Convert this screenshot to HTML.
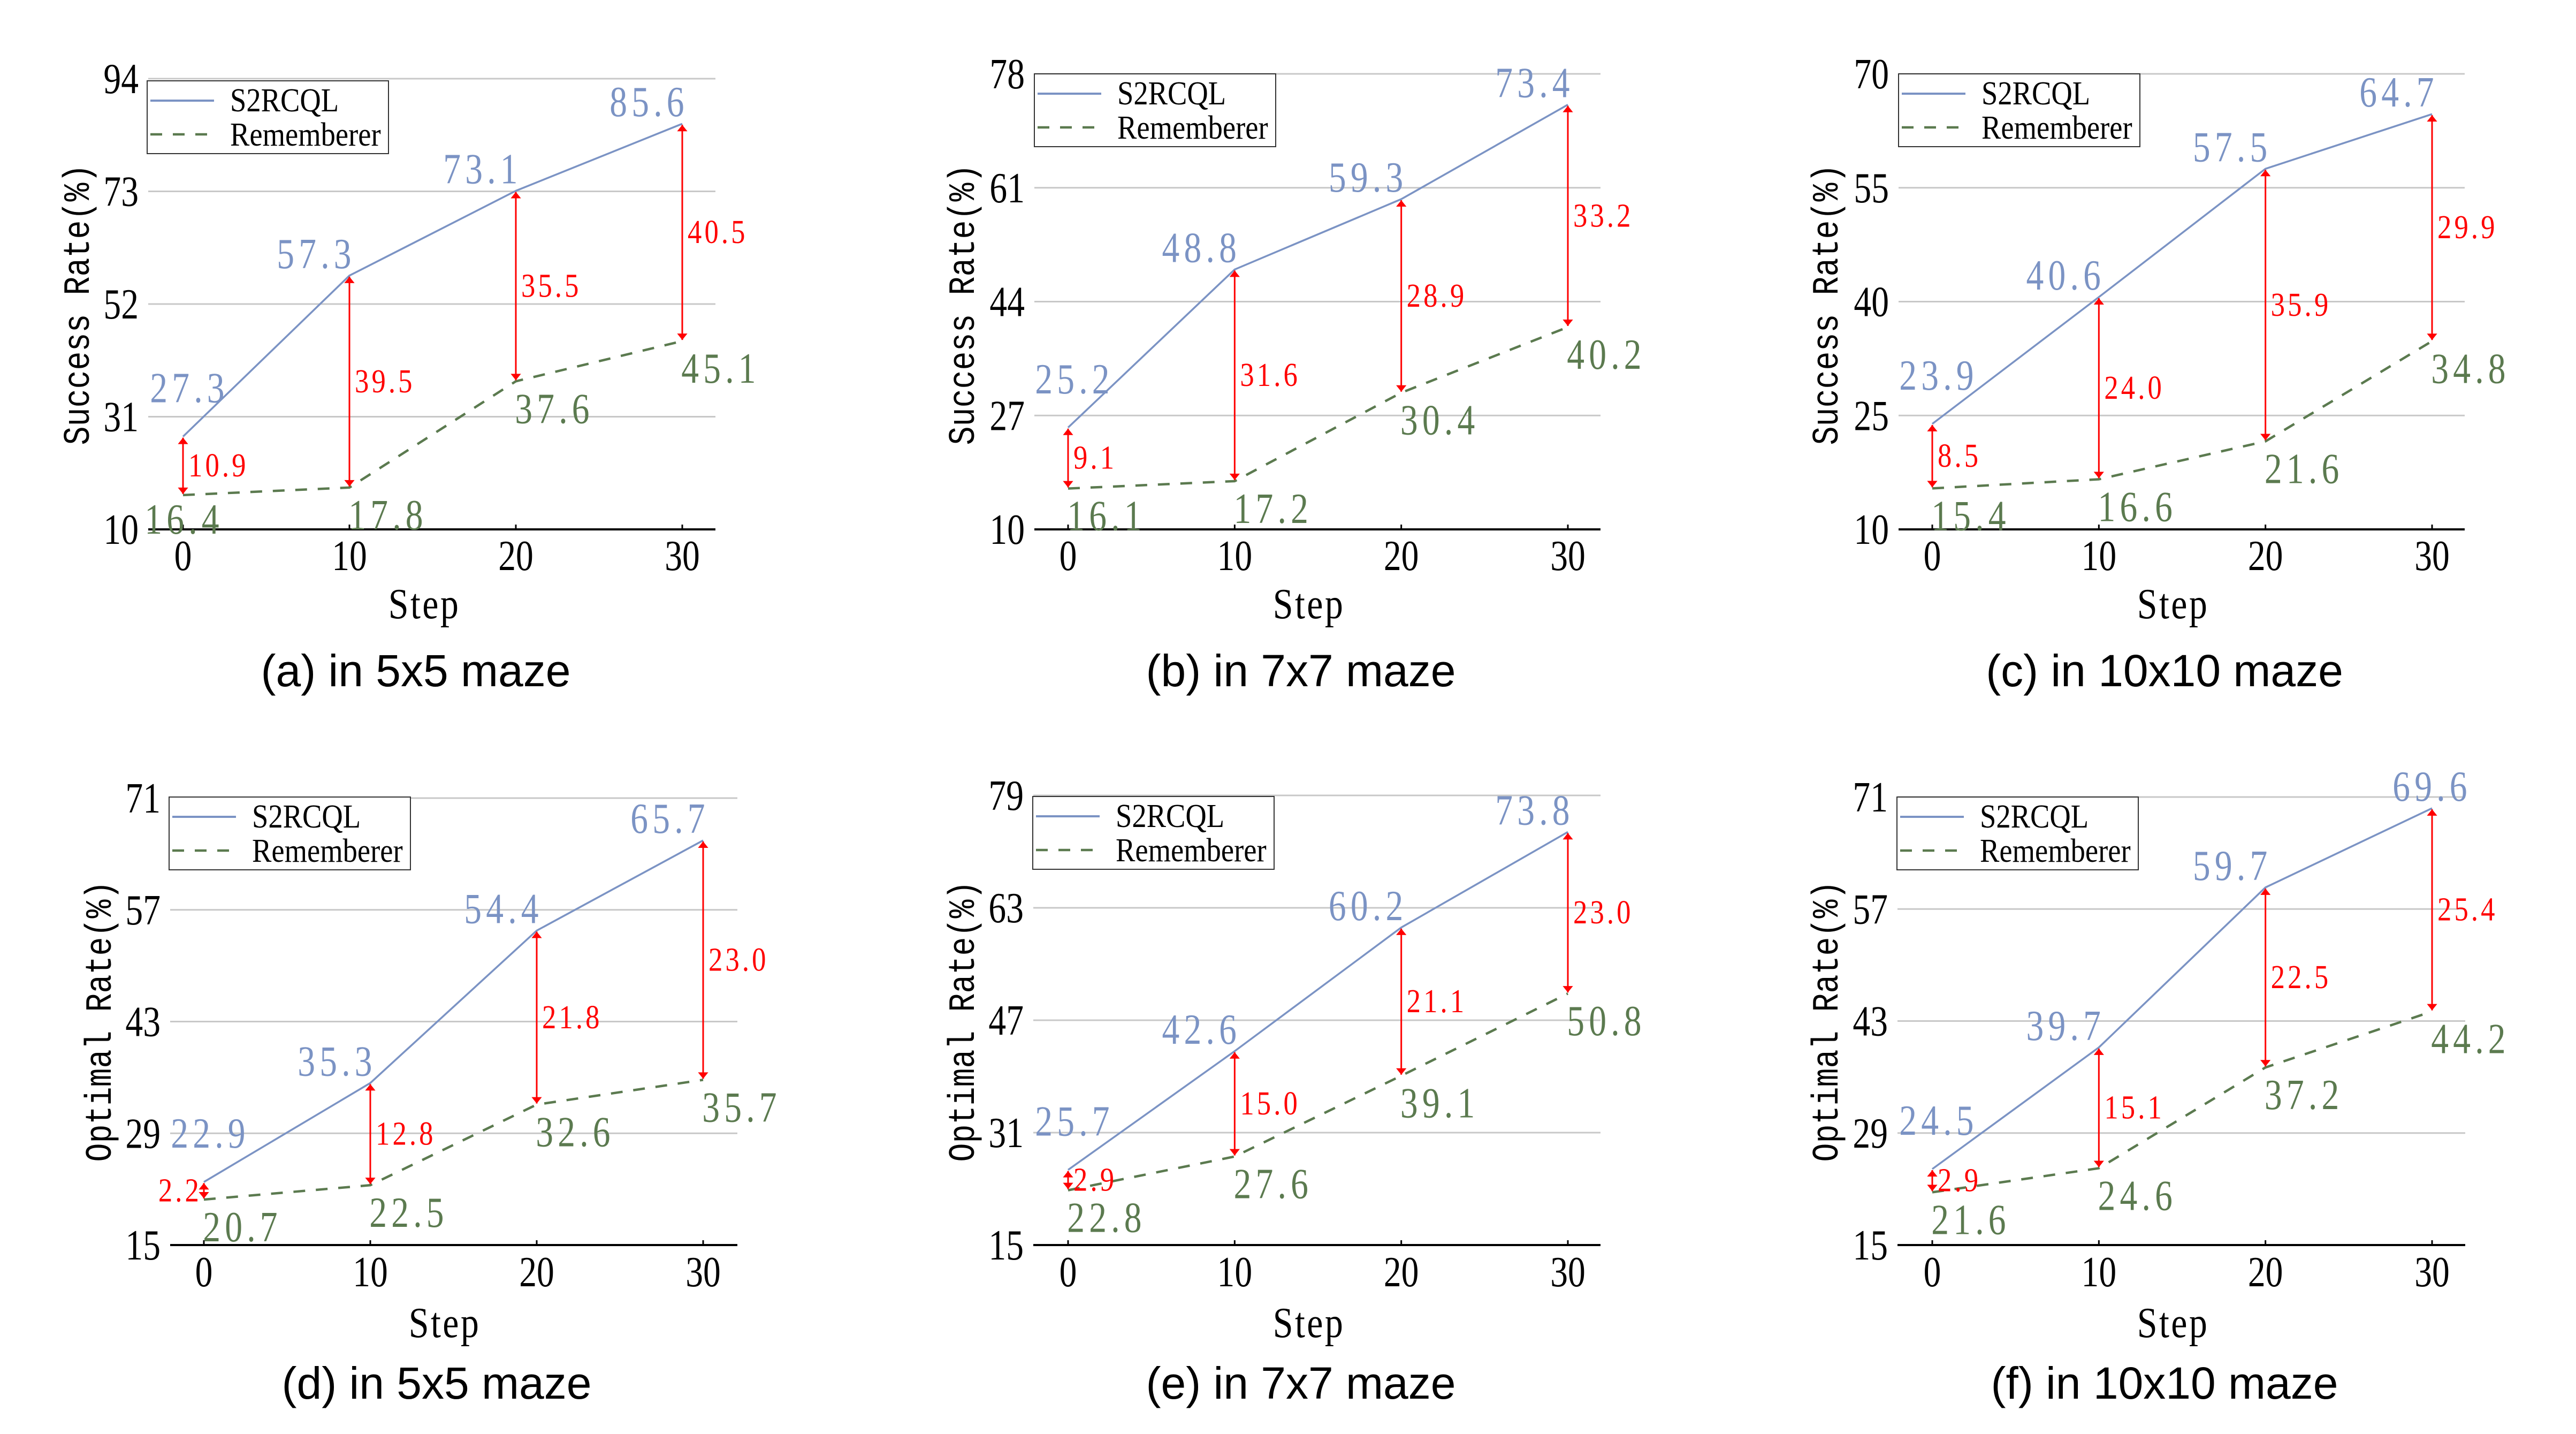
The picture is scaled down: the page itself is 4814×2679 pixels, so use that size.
<!DOCTYPE html>
<html><head><meta charset="utf-8"><style>
html,body{margin:0;padding:0;background:#fff}
svg{display:block}
</style></head><body>
<svg id="fig" width="4814" height="2679" viewBox="0 0 4814 2679" xmlns="http://www.w3.org/2000/svg"></svg>
<script>
// ---- data ----
const steps = [0, 10, 20, 30];
const s2rcqlA = [27.3, 57.3, 73.1, 85.6];
const rememA = [16.4, 17.8, 37.6, 45.1];
const gapA = [10.9, 39.5, 35.5, 40.5];
const s2rcqlB = [25.2, 48.8, 59.3, 73.4];
const rememB = [16.1, 17.2, 30.4, 40.2];
const gapB = [9.1, 31.6, 28.9, 33.2];
const s2rcqlC = [23.9, 40.6, 57.5, 64.7];
const rememC = [15.4, 16.6, 21.6, 34.8];
const gapC = [8.5, 24.0, 35.9, 29.9];
const s2rcqlD = [22.9, 35.3, 54.4, 65.7];
const rememD = [20.7, 22.5, 32.6, 35.7];
const gapD = [2.2, 12.8, 21.8, 23.0];
const s2rcqlE = [25.7, 42.6, 60.2, 73.8];
const rememE = [22.8, 27.6, 39.1, 50.8];
const gapE = [2.9, 15.0, 21.1, 23.0];
const s2rcqlF = [24.5, 39.7, 59.7, 69.6];
const rememF = [21.6, 24.6, 37.2, 44.2];
const gapF = [2.9, 15.1, 22.5, 25.4];
const yTicksA = [10, 31, 52, 73, 94];
const yTicksB = [10, 27, 44, 61, 78];
const yTicksC = [10, 25, 40, 55, 70];
const yTicksD = [15, 29, 43, 57, 71];
const yTicksE = [15, 31, 47, 63, 79];
const yTicksF = [15, 29, 43, 57, 71];
const titles = ["(a) in 5x5 maze","(b) in 7x7 maze","(c) in 10x10 maze","(d) in 5x5 maze","(e) in 7x7 maze","(f) in 10x10 maze"];
const yTitles = ["Success Rate(%)","Success Rate(%)","Success Rate(%)","Optimal Rate(%)","Optimal Rate(%)","Optimal Rate(%)"];

// ---- layout (pixels) ----
const panels = [
 {id:'a',s:s2rcqlA,r:rememA,gp:gapA,t:yTicksA,axL:277,axR:1337,x0:342,x30:1275,yT:147,yB:989,lg:[275,151],yTx:144,yTy:569,stepX:793,stepY:1155,tickY:1065,titleX:777,titleY:1282},
 {id:'b',s:s2rcqlB,r:rememB,gp:gapB,t:yTicksB,axL:1933,axR:2991,x0:1996,x30:2930,yT:138,yB:989,lg:[1933,138],yTx:1798,yTy:569,stepX:2446,stepY:1155,tickY:1065,titleX:2431,titleY:1282},
 {id:'c',s:s2rcqlC,r:rememC,gp:gapC,t:yTicksC,axL:3548,axR:4606,x0:3611,x30:4545,yT:138,yB:989,lg:[3548,138],yTx:3412,yTy:569,stepX:4061,stepY:1155,tickY:1065,titleX:4045,titleY:1282},
 {id:'d',s:s2rcqlD,r:rememD,gp:gapD,t:yTicksD,axL:318,axR:1378,x0:381,x30:1314,yT:1491,yB:2326,lg:[316,1489],yTx:185,yTy:1908,stepX:831,stepY:2498,tickY:2403,titleX:816,titleY:2613},
 {id:'e',s:s2rcqlE,r:rememE,gp:gapE,t:yTicksE,axL:1931,axR:2991,x0:1996,x30:2930,yT:1486,yB:2326,lg:[1930,1488],yTx:1798,yTy:1908,stepX:2446,stepY:2498,tickY:2403,titleX:2431,titleY:2613},
 {id:'f',s:s2rcqlF,r:rememF,gp:gapF,t:yTicksF,axL:3546,axR:4607,x0:3611,x30:4545,yT:1489,yB:2326,lg:[3545,1489],yTx:3412,yTy:1908,stepX:4061,stepY:2498,tickY:2403,titleX:4045,titleY:2613}
];
const BLUE='#7b93c4', GREEN='#5b7a4f', RED='#ff0000';
const NS='http://www.w3.org/2000/svg';
const svg=document.getElementById('fig');
function mk(tag,attrs,parent,txt){const e=document.createElementNS(NS,tag);for(const k in attrs)e.setAttribute(k,attrs[k]);if(txt!==undefined)e.textContent=txt;(parent||svg).appendChild(e);return e;}
function stxt(x,y,sx,attrs,parent,txt){attrs.x=0;attrs.y=0;attrs.transform='translate('+x+','+y+') scale('+sx+',1)';return mk('text',attrs,parent,txt);}
const defs=mk('defs',{});
const mkr=mk('marker',{id:'ah',viewBox:'0 0 10 20',refX:'10',refY:'10',markerWidth:'14',markerHeight:'24',markerUnits:'userSpaceOnUse',orient:'auto-start-reverse'},defs);
mk('path',{d:'M0,2 L10,10 L0,18 Z',fill:RED},mkr);
const SERIF='"Liberation Serif", serif';
const fmt=v=>v.toFixed(1);

panels.forEach((p,pi)=>{
 const g=mk('g',{});
 
 
 const lo=p.t[0], hi=p.t[p.t.length-1];
 const X=v=>p.x0+(v-steps[0])/(steps[3]-steps[0])*(p.x30-p.x0);
 const Y=v=>p.yB-(v-lo)/(hi-lo)*(p.yB-p.yT);
 p.t.forEach((tv,i)=>{
  if(i>0){const gl=mk('line',{x1:p.axL,x2:p.axR,y1:Y(tv),y2:Y(tv),stroke:'#c8c8c8','stroke-width':3},g);
   
   }
  const tl=stxt(p.axL-18,Y(tv)+27,0.82,{'text-anchor':'end','font-family':SERIF,'font-size':80,fill:'#000'},g,String(tv));
  
  
 });
 const ax=mk('line',{x1:p.axL,x2:p.axR,y1:p.yB,y2:p.yB,stroke:'#000','stroke-width':4},g);
 
 
 steps.forEach(sv=>{
  mk('line',{x1:X(sv),x2:X(sv),y1:p.yB,y2:p.yB-9,stroke:'#000','stroke-width':3},g);
  const xl=stxt(X(sv),p.tickY,0.82,{'text-anchor':'middle','font-family':SERIF,'font-size':80,fill:'#000'},g,String(sv));
  
  
 });
 const sp=steps.map((sv,i)=>X(sv)+','+Y(p.s[i])).join(' ');
 const rp=steps.map((sv,i)=>X(sv)+','+Y(p.r[i])).join(' ');
 const l2=mk('polyline',{points:rp,fill:'none',stroke:GREEN,'stroke-width':4.5,'stroke-dasharray':'22 20'},g);
 
 
 const l1=mk('polyline',{points:sp,fill:'none',stroke:BLUE,'stroke-width':3.5},g);
 
 
 steps.forEach((sv,i)=>{
  const x=X(sv), ys=Y(p.s[i]), yr=Y(p.r[i]);
  const ar=mk('line',{x1:x,x2:x,y1:yr-2,y2:ys+2,stroke:RED,'stroke-width':3,'marker-start':'url(#ah)','marker-end':'url(#ah)'},g);
  
  
  const left=(p.id==='d'&&i===0);
  const rl=stxt(left?x-4:x+10,(ys+yr)/2+20,0.85,{'text-anchor':left?'end':'start','font-family':SERIF,'font-size':62,fill:RED,'letter-spacing':6},g,fmt(p.gp[i]));
  
  
  let bdx=-62,bdy=-14; if(i===0){bdx=12;bdy=-64;} if(p.id==='f'&&i===3){bdx=0;bdy=-14;}
  let gdx=72,gdy=78; if(p.id==='a'&&i===0){gdx=2;gdy=72;}
  const bl=stxt(x+bdx,ys+bdy,0.82,{'text-anchor':'middle','font-family':SERIF,'font-size':80,fill:BLUE,'letter-spacing':10},g,fmt(p.s[i]));
  
  
  const gl2=stxt(x+gdx,yr+gdy,0.82,{'text-anchor':'middle','font-family':SERIF,'font-size':80,fill:GREEN,'letter-spacing':10},g,fmt(p.r[i]));
  
  
 });
 const [lx,ly]=p.lg;
 const lgG=mk('g',{},g);
 
 
 mk('rect',{x:lx,y:ly,width:451,height:136,fill:'#fff',stroke:'#333','stroke-width':2},lgG);
 mk('line',{x1:lx+6,x2:lx+125,y1:ly+37,y2:ly+37,stroke:BLUE,'stroke-width':4},lgG);
 mk('line',{x1:lx+6,x2:lx+125,y1:ly+100,y2:ly+100,stroke:GREEN,'stroke-width':4.5,'stroke-dasharray':'22 20'},lgG);
 const le1=stxt(lx+155,ly+57,0.88,{'font-family':SERIF,'font-size':62,fill:'#000'},lgG,'S2RCQL');
 
 
 const le2=stxt(lx+155,ly+121,0.88,{'font-family':SERIF,'font-size':62,fill:'#000'},lgG,'Rememberer');
 
 
 const yt=mk('text',{x:0,y:0,transform:'translate('+(p.yTx+22)+','+p.yTy+') rotate(-90)','text-anchor':'middle','font-family':'"Liberation Mono", monospace','font-size':70,fill:'#000',textLength:525,lengthAdjust:'spacingAndGlyphs'},g,yTitles[pi]);
 
 
 const xt=stxt(p.stepX,p.stepY,0.85,{'text-anchor':'middle','font-family':SERIF,'font-size':80,'letter-spacing':4,fill:'#000'},g,'Step');
 
 
 const tt=mk('text',{x:p.titleX,y:p.titleY,'text-anchor':'middle','font-family':'"Liberation Sans", sans-serif','font-size':84,fill:'#000'},g,titles[pi]);
 
 
});
</script>
</body></html>
